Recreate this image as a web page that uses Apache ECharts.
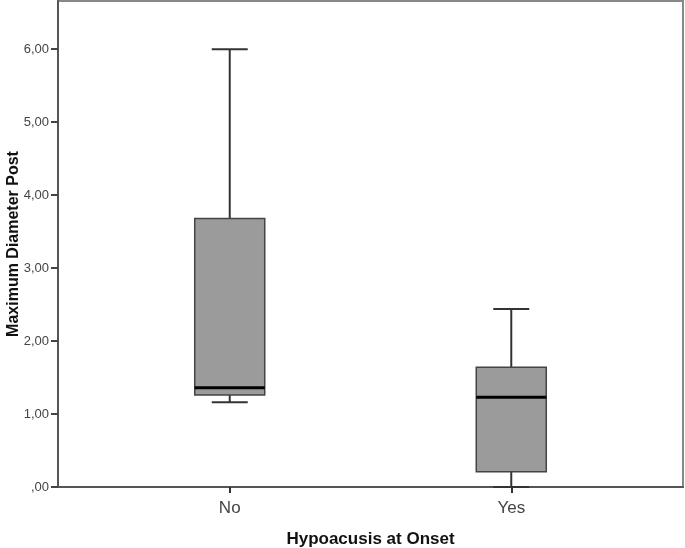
<!DOCTYPE html>
<html>
<head>
<meta charset="utf-8">
<script src="https://cdn.jsdelivr.net/npm/echarts@6/dist/echarts.min.js"></script>
<style>html,body{margin:0;padding:0;background:#fff}#c{width:685px;height:548px}</style>
</head>
<body>
<div id="c"></div>
<script>
var categories = ['No', 'Yes'];
var lowWhisker = [1.16, 0.00];
var q1 = [1.26, 0.21];
var median = [1.36, 1.23];
var q3 = [3.68, 1.64];
var highWhisker = [6.00, 2.44];
var yTicks = [0, 1, 2, 3, 4, 5, 6];

var data = categories.map(function (c, i) {
  return [i, lowWhisker[i], q1[i], median[i], q3[i], highWhisker[i]];
});

var chart = echarts.init(document.getElementById('c'));
var font = '"Liberation Sans", Arial, sans-serif';

function renderItem(params, api) {
  var x = api.value(0);
  var pLow = api.coord([x, api.value(1)]);
  var pQ1 = api.coord([x, api.value(2)]);
  var pMed = api.coord([x, api.value(3)]);
  var pQ3 = api.coord([x, api.value(4)]);
  var pHigh = api.coord([x, api.value(5)]);
  var cx = pLow[0];
  var bw = 70, cw = 36;
  var lineStyle = { stroke: '#333', lineWidth: 2 };
  return {
    type: 'group',
    children: [
      { type: 'line', shape: { x1: cx, y1: pQ3[1], x2: cx, y2: pHigh[1] }, style: lineStyle },
      { type: 'line', shape: { x1: cx, y1: pQ1[1], x2: cx, y2: pLow[1] }, style: lineStyle },
      { type: 'line', shape: { x1: cx - cw / 2, y1: pHigh[1], x2: cx + cw / 2, y2: pHigh[1] }, style: lineStyle },
      { type: 'line', shape: { x1: cx - cw / 2, y1: pLow[1], x2: cx + cw / 2, y2: pLow[1] }, style: lineStyle },
      { type: 'rect', shape: { x: cx - bw / 2, y: pQ3[1], width: bw, height: pQ1[1] - pQ3[1] },
        style: { fill: '#9b9b9b', stroke: '#444', lineWidth: 1.5 } },
      { type: 'line', shape: { x1: cx - bw / 2, y1: pMed[1], x2: cx + bw / 2, y2: pMed[1] },
        style: { stroke: '#000', lineWidth: 3 } }
    ]
  };
}

chart.setOption({
  animation: false,
  grid: { left: 58, right: 2, top: 1, bottom: 61, containLabel: false, outerBoundsMode: 'none',
    show: true, borderColor: '#888', borderWidth: 2, backgroundColor: '#fff' },
  xAxis: {
    type: 'value', min: -0.61, max: 1.61,
    name: 'Hypoacusis at Onset', nameLocation: 'middle', nameGap: 44, nameMoveOverlap: false,
    nameTextStyle: { fontFamily: font, fontWeight: 'bold', fontSize: 17, color: '#111' },
    axisLine: { onZero: false, lineStyle: { color: '#555', width: 2 } },
    axisTick: { show: true, inside: false, length: 6, customValues: [0, 1], lineStyle: { color: '#333', width: 2 } },
    axisLabel: { customValues: [0, 1], margin: 13, fontFamily: font, fontSize: 17, color: '#444',
      formatter: function (v) { return categories[Math.round(v)]; } },
    splitLine: { show: false }
  },
  yAxis: {
    type: 'value', min: 0, max: 6.66,
    name: 'Maximum Diameter Post', nameLocation: 'middle', nameGap: 36, nameRotate: 90, nameMoveOverlap: false,
    nameTextStyle: { fontFamily: font, fontWeight: 'bold', fontSize: 16, color: '#111' },
    axisLine: { show: true, onZero: false, lineStyle: { color: '#555', width: 2 } },
    axisTick: { show: true, inside: false, length: 7, customValues: yTicks, lineStyle: { color: '#444', width: 2 } },
    axisLabel: { customValues: yTicks, margin: 9, fontFamily: font, fontSize: 13, color: '#444',
      formatter: function (v) { return v === 0 ? ',00' : v.toFixed(2).replace('.', ','); } },
    splitLine: { show: false }
  },
  series: [{
    type: 'custom',
    renderItem: renderItem,
    encode: { x: 0, y: [1, 2, 3, 4, 5] },
    data: data
  }]
});
</script>
</body>
</html>
